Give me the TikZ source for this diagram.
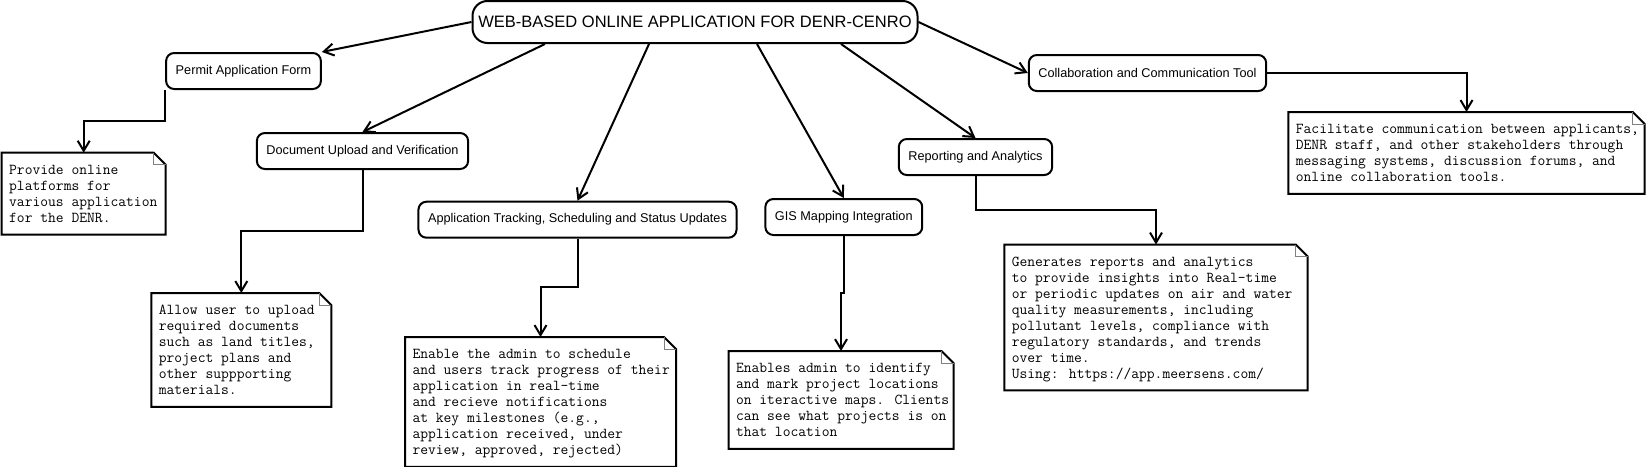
\documentclass[tikz,border=0pt]{standalone}
\usepackage{fontspec}
\setmainfont{Liberation Sans}
\usepackage{tikz}
\usetikzlibrary{positioning, arrows.meta}

\newcommand{\notelines}[2]{\makebox[#1][l]{\begin{tabular}{@{}l@{}}\rule{0pt}{14pt}#2\end{tabular}}}

\begin{document}
\begin{tikzpicture}[x=1pt, y=-1pt,
    titlenode/.style={rectangle, draw=black, line width=2pt, rounded corners=15pt, minimum width=445pt, minimum height=42pt, font=\fontsize{16.5}{19}\selectfont},
    boxnode/.style={rectangle, draw=black, line width=2pt, rounded corners=8pt, minimum height=36pt, inner xsep=9.6pt, font=\fontsize{12.7}{15}\selectfont},
    notenode/.style={rectangle, inner xsep=7.5pt, inner ysep=7.5pt, outer sep=0pt, font=\ttfamily\fontsize{15.14}{16}\selectfont,
        append after command={\pgfextra{
            \draw[line width=2pt] (\tikzlastnode.south west) -- (\tikzlastnode.north west) -- ([xshift=-12pt]\tikzlastnode.north east) -- ([yshift=-12pt]\tikzlastnode.north east) -- (\tikzlastnode.south east) -- cycle;
            \draw[gray, line width=0.8pt] ([xshift=-12pt]\tikzlastnode.north east) |- ([yshift=-12pt]\tikzlastnode.north east);
        }}},
    link/.style={line width=2pt, -{Straight Barb[length=10pt, width=12pt]}}
]
\useasboundingbox (0,0) rectangle (1647,466);

\node[titlenode](title) at (695,22){WEB-BASED ONLINE APPLICATION FOR DENR-CENRO};
\node[boxnode](permit) at (243.5,71){Permit Application Form};
\node[boxnode](upload) at (362.5,151){Document Upload and Verification};
\node[boxnode](tracking) at (577.5,219.7){Application Tracking, Scheduling and Status Updates};
\node[boxnode](gis) at (843.8,217){GIS Mapping Integration};
\node[boxnode](report) at (975.5,157){Reporting and Analytics};
\node[boxnode](collab) at (1147.5,73){Collaboration and Communication Tool};

\node[notenode](permitnote)[below = 62.7pt of permit, xshift=-159.8pt]{\notelines{149pt}{Provide online\\platforms for\\various application\\for the DENR.}};
\node[notenode](uploadnote)[below = 123pt of upload, xshift=-121.2pt]{\notelines{165pt}{Allow user to upload\\required documents\\such as land titles,\\project plans and\\other suppporting\\materials.}};
\node[notenode](trackingnote)[below = 98.3pt of tracking, xshift=-37pt]{\notelines{256pt}{Enable the admin to schedule\\and users track progress of their\\application in real-time\\and recieve notifications\\at key milestones (e.g.,\\application received, under\\review, approved, rejected)}};
\node[notenode](gisnote)[below = 115pt of gis, xshift=-2.8pt]{\notelines{210pt}{Enables admin to identify\\and mark project locations\\on iteractive maps. Clients\\can see what projects is on\\that location}};
\node[notenode](reportnote)[below = 68.5pt of report, xshift=180.5pt]{\notelines{288.4pt}{Generates reports and analytics\\to provide insights into Real-time\\or periodic updates on air and water\\quality measurements, including\\pollutant levels, compliance with\\regulatory standards, and trends\\over time.\\Using: https://app.meersens.com/}};
\node[notenode](collabnote)[below = 20pt of collab, xshift=319pt]{\notelines{341.3pt}{Facilitate communication between applicants,\\DENR staff, and other stakeholders through\\messaging systems, discussion forums, and\\online collaboration tools.}};

\draw[link] (title.west) -- (permit.north east);
\draw[link] ([xshift=-150pt]title.south) -- (upload.north);
\draw[link] ([xshift=-46pt]title.south) -- (tracking.north);
\draw[link] ([xshift=62pt]title.south) -- (gis.north);
\draw[link] ([xshift=146pt]title.south) -- (report.north);
\draw[link] (title.east) -- (collab.west);

\draw[link] (permit.south west) -- ++(0,31) -| (permitnote.north);
\draw[link] (upload.south) -- ++(0,61) -| (uploadnote.north);
\draw[link] (tracking.south) -- ++(0,48) -| (trackingnote.north);
\draw[link] (gis.south) -- ++(0,57) -| (gisnote.north);
\draw[link] (report.south) -- ++(0,34) -| (reportnote.north);
\draw[link] (collab.east) -| (collabnote.north);
\end{tikzpicture}
\end{document}
